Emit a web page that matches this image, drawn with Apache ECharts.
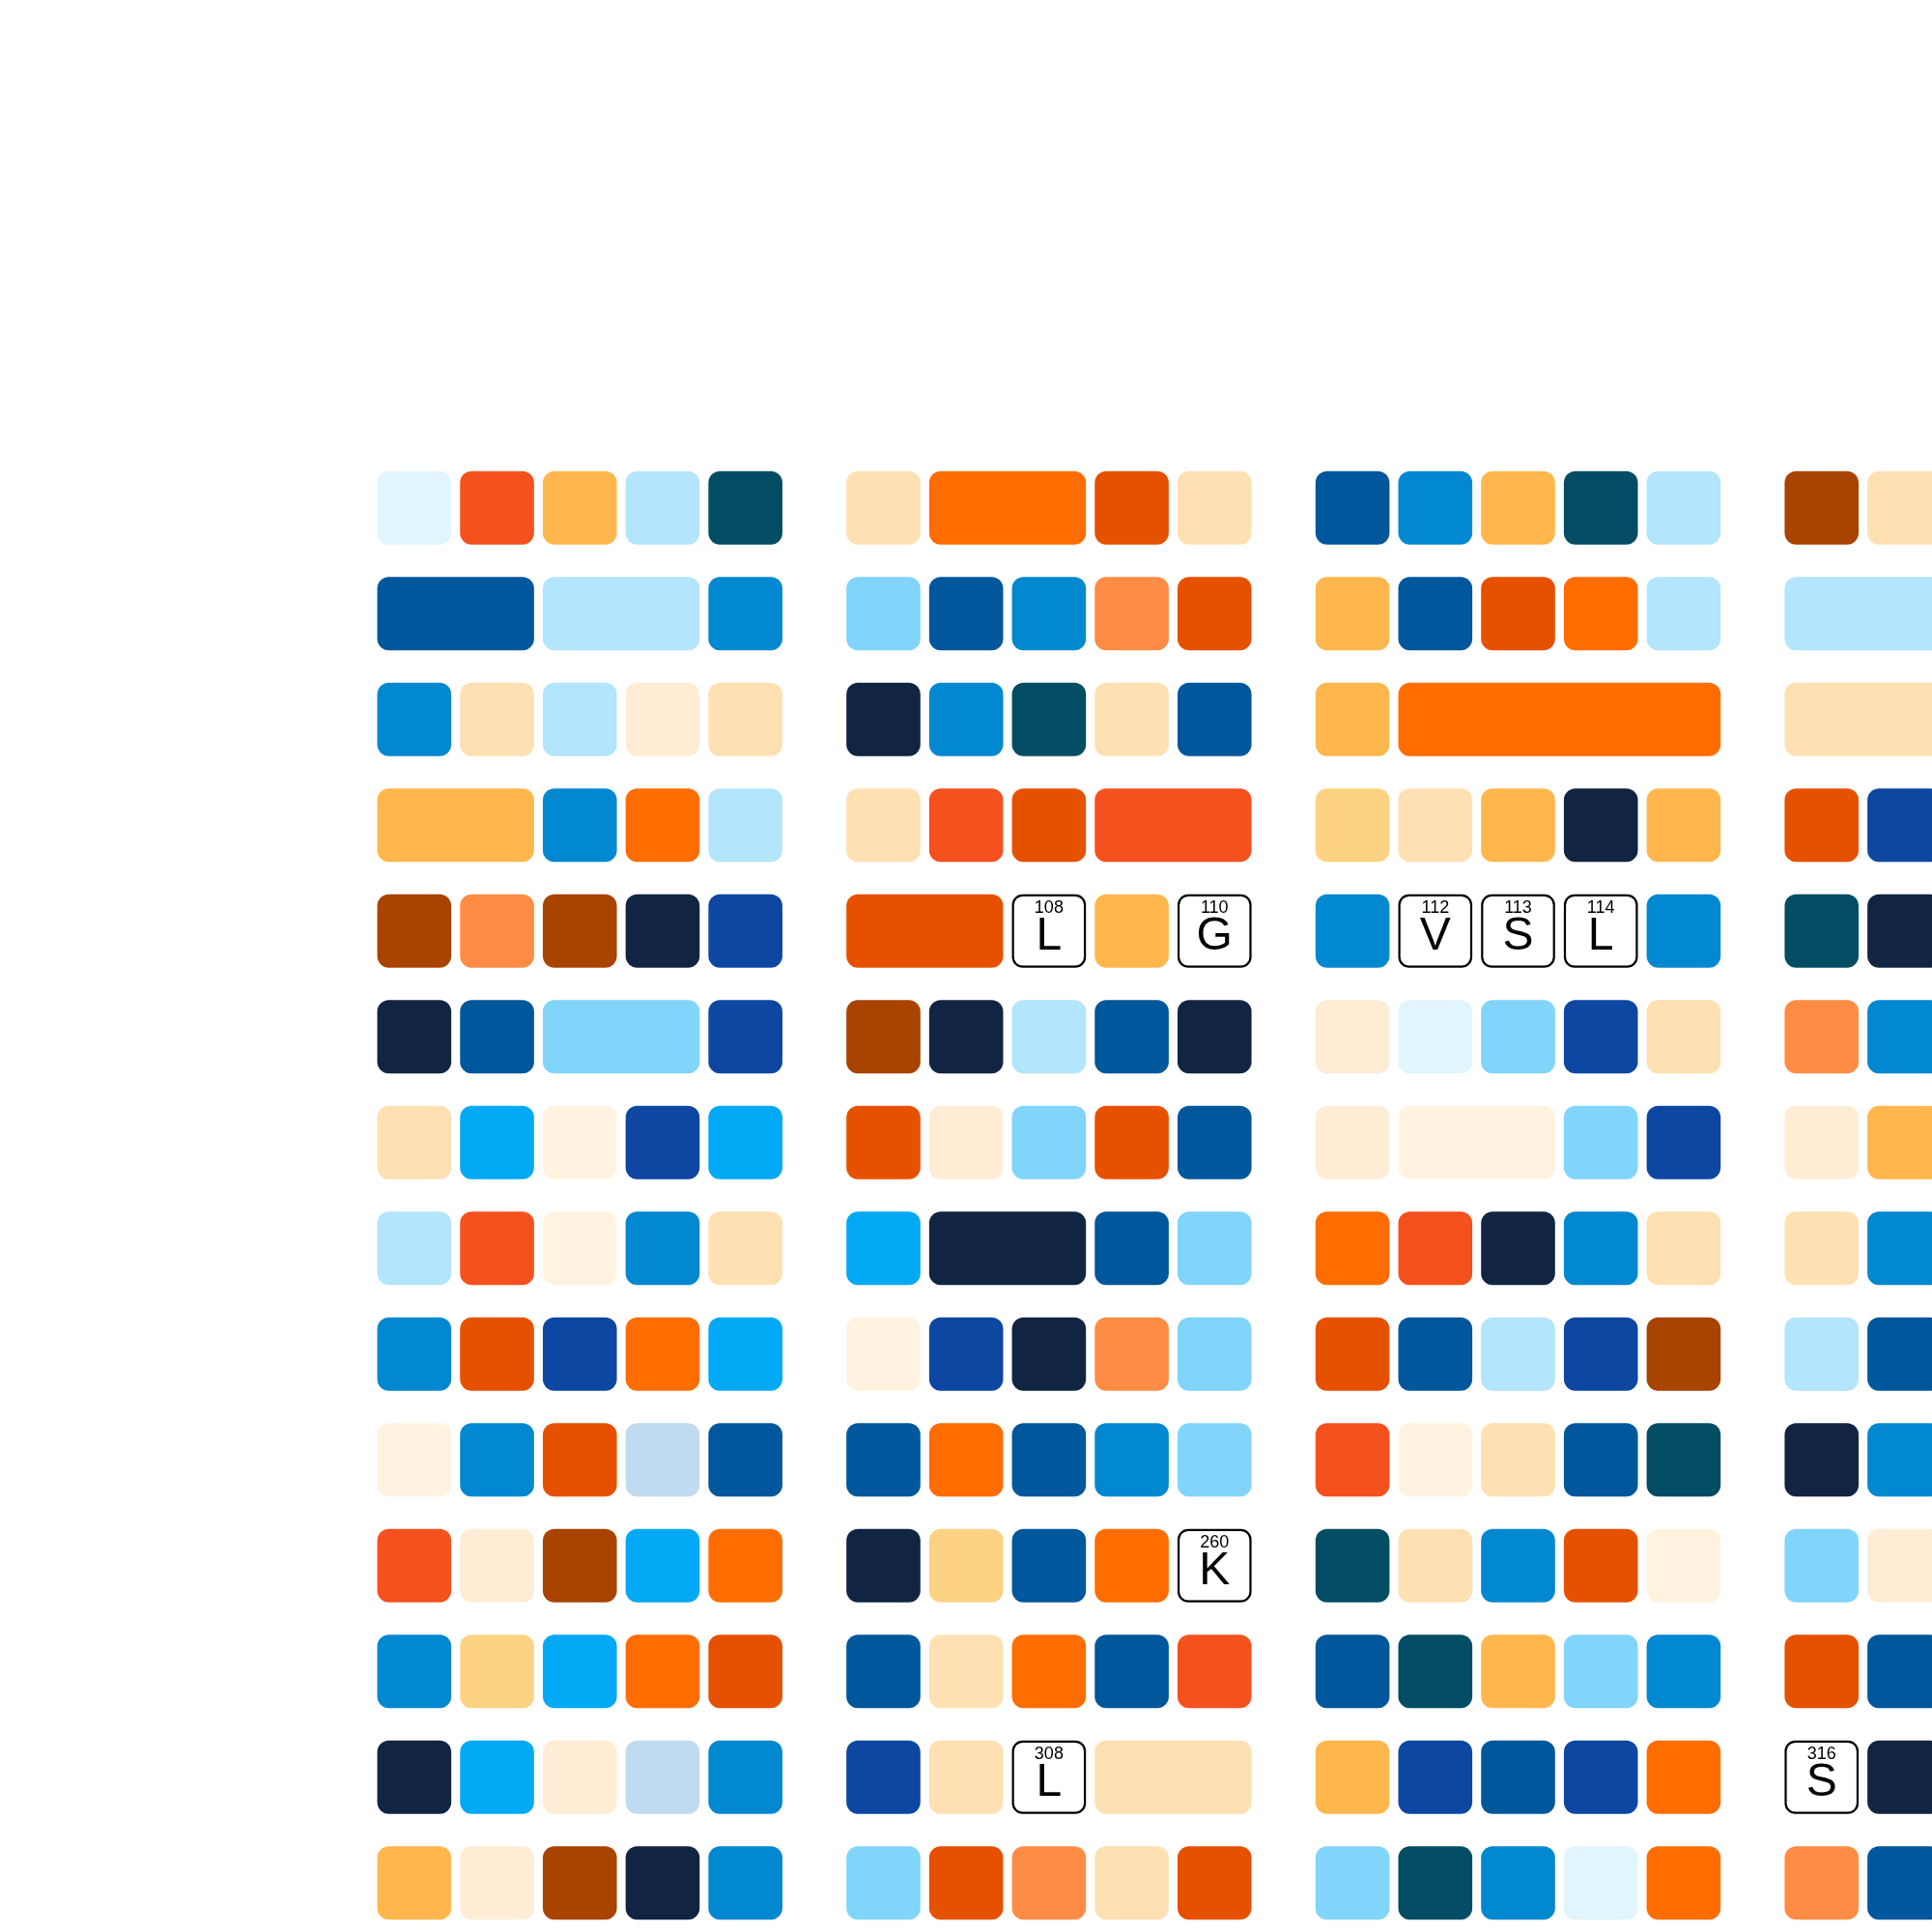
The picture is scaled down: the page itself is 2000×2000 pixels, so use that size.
<!DOCTYPE html>
<html>
<head>
<meta charset="utf-8">
<script src="https://cdn.jsdelivr.net/npm/echarts@6/dist/echarts.min.js"></script>
<style>
  html, body { margin: 0; padding: 0; background: #ffffff; }
  #chart { width: 2000px; height: 2000px; }
</style>
</head>
<body>
<div id="chart"></div>
<script>
// Colour categories
const palette = {
  vlb: '#E1F5FE', lb: '#B3E5FC', sky: '#81D4FA', bb: '#03A9F4', mb: '#0288D1',
  db: '#01579B', ind: '#0D47A1', nav: '#112542', teal: '#024D64', pb: '#C0DBF0',
  cB: '#FFF3E0', cA: '#FFECD5', pe: '#FFE0B2', lo: '#FDD283', oy: '#FFB74D',
  or: '#FF8C45', bo: '#FF6D00', ro: '#F4511E', do: '#E65100', br: '#A84300'
};

// Rows per block; "key*n" spans n columns, "@" is a labelled residue
const group1Rows = [
  'vlb ro oy lb teal',
  'db*2 lb*2 mb',
  'mb pe lb cA pe',
  'oy*2 mb bo lb',
  'br or br nav ind',
  'nav db sky*2 ind',
  'pe bb cB ind bb',
  'lb ro cB mb pe',
  'mb do ind bo bb',
  'cB mb do pb db',
  'ro cA br bb bo',
  'mb lo bb bo do',
  'nav bb cA pb mb',
  'oy cA br nav mb'
];
const group2Rows = [
  'pe bo*2 do pe',
  'sky db mb or do',
  'nav mb teal pe db',
  'pe ro do ro*2',
  'do*2 @ oy @',
  'br nav lb db nav',
  'do cA sky do db',
  'bb nav*2 db sky',
  'cB ind nav or sky',
  'db bo db mb sky',
  'nav lo db bo @',
  'db pe bo db ro',
  'ind pe @ pe*2',
  'sky do or pe do'
];
const group3Rows = [
  'db mb oy teal lb',
  'oy db do bo lb',
  'oy bo*4',
  'lo pe oy nav oy',
  'mb @ @ @ mb',
  'cA vlb sky ind pe',
  'cA cB*2 sky ind',
  'bo ro nav mb pe',
  'do db lb ind br',
  'ro cB pe db teal',
  'teal pe mb do cB',
  'db teal oy sky mb',
  'oy ind db ind bo',
  'sky teal mb vlb bo'
];
const group4Rows = [
  'br pe',
  'lb*3',
  'pe*3',
  'do ind',
  'teal nav',
  'or mb',
  'cA oy',
  'pe mb',
  'lb db',
  'nav mb',
  'sky cA',
  'do db',
  '@ nav',
  'or db'
];
// Labelled residues, in block/row/column order
const labelNumbers = [108, 110, 260, 308, 112, 113, 114, 316];
const labelResidues = ['L', 'G', 'K', 'L', 'V', 'S', 'L', 'S'];

const groups = [group1Rows, group2Rows, group3Rows, group4Rows];
const GROUP_STRIDE = 17 / 3;
const CELL_W = 0.894;
const CELL_H = 0.694;

const data = [];
const meta = [];
let labelIdx = 0;
groups.forEach((rows, g) => {
  rows.forEach((row, r) => {
    let col = 0;
    row.split(' ').forEach(tok => {
      const parts = tok.split('*');
      const key = parts[0];
      const span = parts.length > 1 ? +parts[1] : 1;
      data.push([g * GROUP_STRIDE + col, r, span]);
      if (key === '@') {
        meta.push({ label: true, num: labelNumbers[labelIdx], res: labelResidues[labelIdx] });
        labelIdx++;
      } else {
        meta.push({ label: false, color: palette[key] });
      }
      col += span;
    });
  });
});

function renderItem(params, api) {
  const m = meta[params.dataIndex];
  const span = api.value(2);
  const c = api.coord([api.value(0) - CELL_W / 2, api.value(1)]);
  const w = api.size([span - 1 + CELL_W, 0])[0];
  const h = api.size([0, CELL_H])[1];
  const x = c[0], y = c[1] - h / 2;
  if (!m.label) {
    return {
      type: 'rect',
      shape: { x: x, y: y, width: w, height: h, r: 12 },
      style: { fill: m.color }
    };
  }
  return {
    type: 'group',
    children: [
      {
        type: 'rect',
        shape: { x: x + 1.1, y: y + 1.1, width: w - 2.2, height: h - 2.2, r: 10 },
        style: { fill: '#ffffff', stroke: '#000000', lineWidth: 2.2 }
      },
      {
        type: 'text',
        style: {
          text: String(m.num), x: x + w / 2, y: y + 14,
          align: 'center', verticalAlign: 'middle',
          fill: '#000000', font: '18px "Liberation Sans", Arial, sans-serif'
        }
      },
      {
        type: 'text',
        style: {
          text: m.res, x: x + w / 2, y: y + h / 2 + 6,
          align: 'center', verticalAlign: 'middle',
          fill: '#000000', font: '48px "Liberation Sans", Arial, sans-serif'
        }
      }
    ]
  };
}

const chart = echarts.init(document.getElementById('chart'), null, { renderer: 'canvas' });
chart.setOption({
  backgroundColor: '#ffffff',
  animation: false,
  grid: { left: 386, right: 0, top: 471, bottom: 0 },
  xAxis: { type: 'value', min: -0.5, max: 55 / 3, show: false },
  yAxis: { type: 'value', min: -0.5, max: 13.4635, inverse: true, show: false },
  series: [{
    type: 'custom',
    renderItem: renderItem,
    encode: { x: 0, y: 1 },
    data: data,
    clip: false
  }]
});
</script>
</body>
</html>
